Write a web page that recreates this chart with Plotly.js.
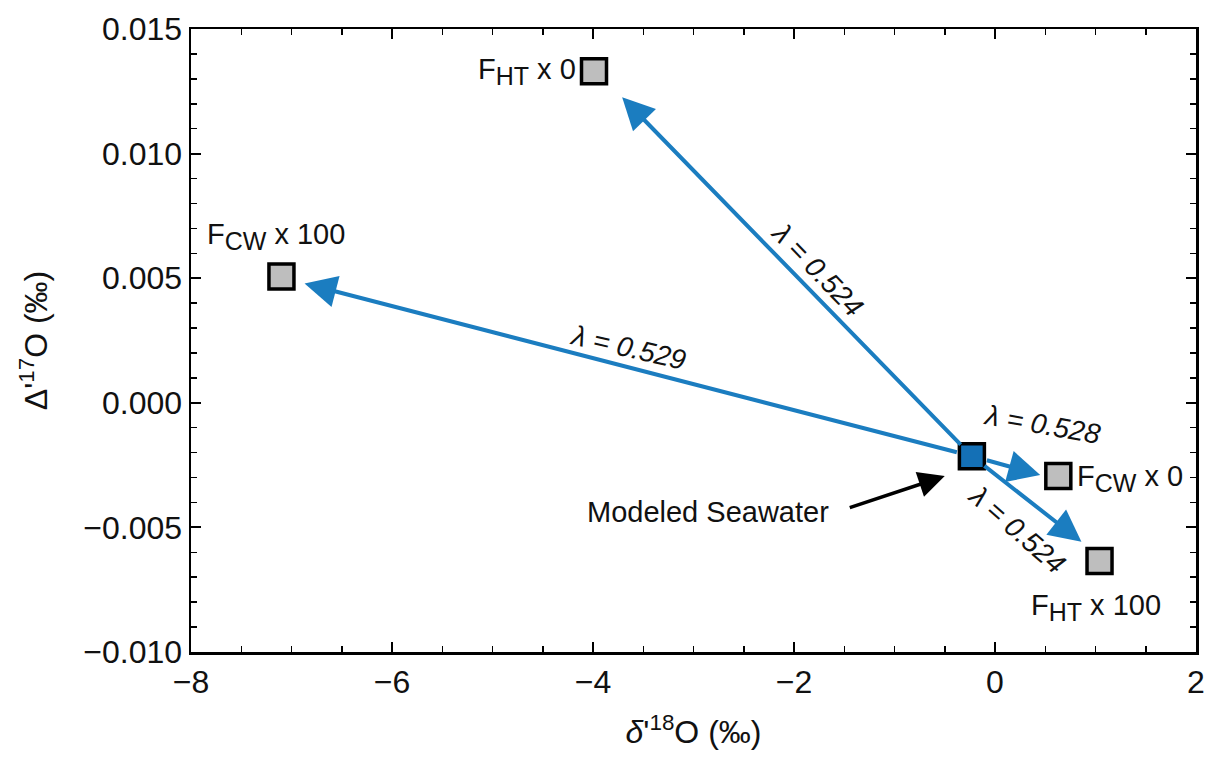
<!DOCTYPE html>
<html>
<head>
<meta charset="utf-8">
<script src="https://cdn.plot.ly/plotly-3.0.1.min.js"></script>
<style>body{margin:0;background:#fff}#chart{width:1207px;height:759px}</style>
</head>
<body>
<div id="chart"></div>
<script>
// End-member points (δ'18O, Δ'17O)
const pointNames = ['Modeled Seawater', 'F<sub><span style="font-size:25px">HT</span></sub> x 0', 'F<sub><span style="font-size:25px">CW</span></sub> x 100', 'F<sub><span style="font-size:25px">CW</span></sub> x 0', 'F<sub><span style="font-size:25px">HT</span></sub> x 100'];
const d18O = [-0.23, -3.99, -7.10, 0.63, 1.04];
const D17O = [-0.00214, 0.0133, 0.00507, -0.00294, -0.00635];

// Arrows from modeled seawater towards each end member (tip positions)
const arrowTipX = [-3.71, -6.87, 0.45, 0.86];
const arrowTipY = [0.01226, 0.00479, -0.0029, -0.00558];

// λ labels along arrows
const lambdaText = ['λ = 0.524', 'λ = 0.529', 'λ = 0.528', 'λ = 0.524'];
const lambdaX = [-1.77, -3.65, 0.47, 0.22];
const lambdaY = [0.00533, 0.00220, -0.00088, -0.00508];
const lambdaAngle = [46, 13, 10, 41];

// pointer to modeled seawater
const pointerTail = [-1.46, -0.00423];
const pointerTip = [-0.50, -0.00294];

const blue = 'rgb(27,125,192)';
const font = 'Liberation Sans, Arial, sans-serif';

const annotations = [];
for (let i = 0; i < arrowTipX.length; i++) {
  annotations.push({
    x: arrowTipX[i], y: arrowTipY[i], xref: 'x', yref: 'y',
    ax: d18O[0], ay: D17O[0], axref: 'x', ayref: 'y',
    showarrow: true, arrowhead: 2, arrowsize: 1.6, arrowwidth: 4,
    arrowcolor: blue, startstandoff: 14, text: ''
  });
}
annotations.push({
  x: pointerTip[0], y: pointerTip[1], xref: 'x', yref: 'y',
  ax: pointerTail[0], ay: pointerTail[1], axref: 'x', ayref: 'y',
  showarrow: true, arrowhead: 2, arrowsize: 1.5, arrowwidth: 3.5,
  arrowcolor: '#000', text: ''
});
for (let i = 0; i < lambdaText.length; i++) {
  annotations.push({
    x: lambdaX[i], y: lambdaY[i], xref: 'x', yref: 'y',
    text: '<i>' + lambdaText[i] + '</i>', textangle: lambdaAngle[i],
    showarrow: false, font: {family: font, size: 28, color: '#111'}
  });
}
// point labels
const labelPos = [
  {i: 0, xanchor: 'right', yanchor: 'middle', xs: -141, ys: -56, text: 'Modeled Seawater'},
  {i: 1, xanchor: 'right', yanchor: 'middle', xs: -16, ys: 0},
  {i: 2, xanchor: 'center', yanchor: 'bottom', xs: -5, ys: 19},
  {i: 3, xanchor: 'left', yanchor: 'middle', xs: 17, ys: -2},
  {i: 4, xanchor: 'center', yanchor: 'top', xs: -4, ys: -26}
];
labelPos.forEach(p => {
  annotations.push({
    x: d18O[p.i], y: D17O[p.i], xref: 'x', yref: 'y',
    text: p.text || pointNames[p.i], showarrow: false,
    xanchor: p.xanchor, yanchor: p.yanchor, xshift: p.xs, yshift: p.ys,
    font: {family: font, size: 29, color: '#111'}
  });
});

const traces = [{
  type: 'scatter', mode: 'markers',
  x: d18O, y: D17O,
  marker: {
    symbol: 'square', size: 25,
    color: d18O.map((v, i) => i === 0 ? 'rgb(20,112,182)' : 'rgb(190,190,190)'),
    line: {color: '#000', width: 3.5}
  },
  hoverinfo: 'skip', cliponaxis: false
}];

const axisCommon = {
  showgrid: false, zeroline: false, showline: true, linecolor: '#000', linewidth: 2.5,
  mirror: 'ticks', ticks: 'inside', ticklen: 10, tickwidth: 2, tickcolor: '#000',
  tickfont: {family: font, size: 32, color: '#111'}
};

const layout = {
  width: 1207, height: 759,
  margin: {l: 191, r: 11, t: 29, b: 107},
  paper_bgcolor: '#fff', plot_bgcolor: '#fff',
  showlegend: false,
  xaxis: Object.assign({}, axisCommon, {
    range: [-8, 2], dtick: 2, tick0: 0,
    minor: {dtick: 0.5, ticks: 'inside', ticklen: 6, tickwidth: 1.5, tickcolor: '#000'},
    title: {text: "<i>δ</i>'<sup>18</sup>O (‰)", font: {family: font, size: 32, color: '#111'}, standoff: 22}
  }),
  yaxis: Object.assign({}, axisCommon, {
    range: [-0.010, 0.015], dtick: 0.005, tick0: 0, tickformat: '.3f',
    minor: {dtick: 0.001, ticks: 'inside', ticklen: 6, tickwidth: 1.5, tickcolor: '#000'},
    title: {text: "Δ'<sup>17</sup>O (‰)", font: {family: font, size: 32, color: '#111'}, standoff: 26}
  }),
  annotations: annotations
};

Plotly.newPlot('chart', traces, layout, {displayModeBar: false, staticPlot: true});
</script>
</body>
</html>
